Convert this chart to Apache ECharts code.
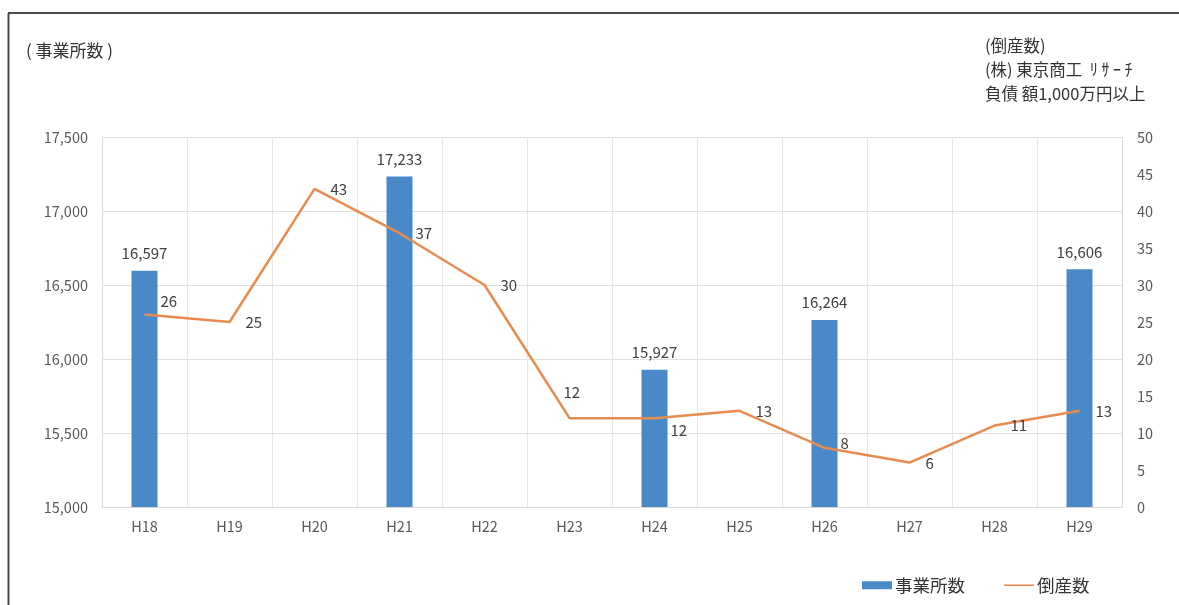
<!DOCTYPE html>
<html><head><meta charset="utf-8">
<script src="https://cdn.jsdelivr.net/npm/echarts@6/dist/echarts.min.js"></script>
<style>html,body{margin:0;padding:0;background:#fff}#c{width:1179px;height:605px}</style>
</head><body><div id="c"></div>
<script>
const categories = ['H18','H19','H20','H21','H22','H23','H24','H25','H26','H27','H28','H29'];
const officeCounts = [16597, null, null, 17233, null, null, 15927, null, 16264, null, null, 16606];
const bankruptcies = [26, 25, 43, 37, 30, 12, 12, 13, 8, 6, 11, 13];
const labelOffsets = [[0,-13],[0,0],[0,0],[0,0],[0,0],[-22,-26],[0,12],[0,0],[0,-5],[0,1],[0,0],[0,0]];

const font = '"Noto Sans CJK JP", "Noto Sans", sans-serif';
const txt = '#595959';
const chart = echarts.init(document.getElementById('c'));
chart.setOption({
  animation: false,
  textStyle: {fontFamily: font},
  grid: {left: 102, right: 57, top: 137, bottom: 98},
  graphic: [
    {type: 'line', shape: {x1: 8, y1: 13, x2: 1179, y2: 13}, style: {stroke: '#4a4a4a', lineWidth: 2}},
    {type: 'line', shape: {x1: 8.5, y1: 13, x2: 8.5, y2: 605}, style: {stroke: '#4a4a4a', lineWidth: 2}},
    {type: 'text', left: 26, top: 42, style: {text: '( 事業所数 )', fill: '#333', font: '17px ' + font}},
    {type: 'text', left: 985, top: 34, style: {text: '(倒産数)\n(株) 東京商工  ﾘ\u2009ｻ\u2009ｰ\u2009ﾁ\n負債 額1,000万円以上', fill: '#333', font: '16.5px ' + font, lineHeight: 24}}
  ],
  legend: {
    bottom: 6, left: 857, itemGap: 39, itemWidth: 30, itemHeight: 8,
    textStyle: {color: '#333', fontSize: 17.5, fontFamily: font, padding: [0,0,0,-2]},
    data: [{name: '事業所数', icon: 'rect'}, {name: '倒産数', icon: 'path://M0,4.2L30,4.2L30,5.8L0,5.8Z'}]
  },
  xAxis: {
    type: 'category', data: categories, boundaryGap: true,
    axisLine: {lineStyle: {color: '#d9d9d9'}},
    axisTick: {show: false},
    axisLabel: {color: txt, fontSize: 14.5, margin: 12},
    splitLine: {show: true, lineStyle: {color: '#e6e6e6'}}
  },
  yAxis: [
    {type: 'value', min: 15000, max: 17500, interval: 500,
     axisLine: {show: true, lineStyle: {color: '#d9d9d9'}}, axisTick: {show: false},
     axisLabel: {color: txt, fontSize: 14.5, margin: 14, formatter: v => v.toLocaleString('en-US')},
     splitLine: {lineStyle: {color: '#e0e0e0'}}},
    {type: 'value', min: 0, max: 50, interval: 5,
     axisLine: {show: true, lineStyle: {color: '#d9d9d9'}}, axisTick: {show: false},
     axisLabel: {color: txt, fontSize: 14.5, margin: 15},
     splitLine: {show: false}}
  ],
  series: [
    {name: '事業所数', type: 'bar', yAxisIndex: 0, data: officeCounts, barWidth: 26,
     itemStyle: {color: '#4a89c8'},
     label: {show: true, position: 'top', distance: 10, color: '#404040', fontSize: 15,
             formatter: p => p.value == null ? '' : p.value.toLocaleString('en-US')}},
    {name: '倒産数', type: 'line', yAxisIndex: 1, symbol: 'circle', symbolSize: 0.01, showSymbol: true,
     lineStyle: {color: '#e88b4e', width: 2.5}, itemStyle: {color: '#e88b4e'},
     data: bankruptcies.map((v, i) => ({value: v, label: {offset: labelOffsets[i]}})),
     label: {show: true, position: 'right', distance: 16, color: '#404040', fontSize: 15}}
  ]
});
</script></body></html>
